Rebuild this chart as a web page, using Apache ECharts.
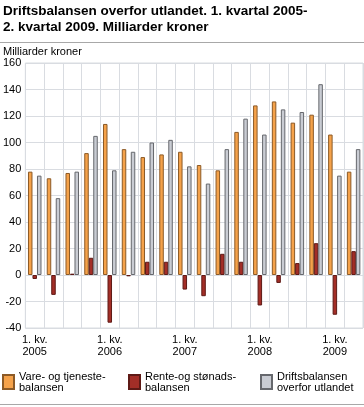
<!DOCTYPE html>
<html>
<head>
<meta charset="utf-8">
<script src="https://cdn.jsdelivr.net/npm/echarts@6/dist/echarts.min.js"></script>
<style>
html,body{margin:0;padding:0;background:#fff;}
#c{width:364px;height:407px;}
</style>
</head>
<body>
<div id="c"></div>
<script>
var categories = ["1. kv.\n2005","2. kv.\n2005","3. kv.\n2005","4. kv.\n2005",
  "1. kv.\n2006","2. kv.\n2006","3. kv.\n2006","4. kv.\n2006",
  "1. kv.\n2007","2. kv.\n2007","3. kv.\n2007","4. kv.\n2007",
  "1. kv.\n2008","2. kv.\n2008","3. kv.\n2008","4. kv.\n2008",
  "1. kv.\n2009","2. kv.\n2009"];
var vareTjeneste = [78,73,77,92,114,95,89,91,93,83,79,108,128,131,115,121,106,78];
var renteStonad = [-3,-15,1,13,-36,-1,10,10,-11,-16,16,10,-23,-6,9,24,-30,18];
var driftsbalanse = [75,58,78,105,79,93,100,102,82,69,95,118,106,125,123,144,75,95];
var seriesNames = ["Vare- og tjeneste-\nbalansen","Rente-og stønads-\nbalansen","Driftsbalansen\noverfor utlandet"];
var yTicks = {min:-40, max:160, interval:20};

var FONT = '"Liberation Sans", Arial, sans-serif';
var gridColor = '#d9dce1';
var fills = ['#f5a24a','#a32e27','#c9ccd3'];
var borders = ['#8c5a26','#5e1a16','#66686d'];

var chart = echarts.init(document.getElementById('c'), null, {renderer:'canvas'});
function legendFor(i, left){
  return {
    left:left, top:371, orient:'horizontal', padding:0,
    data:[{name:seriesNames[i], icon:'rect'}],
    itemWidth:11, itemHeight:14, itemGap:0,
    selectedMode:false,
    textStyle:{fontFamily:FONT, fontSize:11, color:'#000', lineHeight:11}
  };
}
var option = {
  animation:false,
  textStyle:{fontFamily:FONT},
  title:[
    {text:'Driftsbalansen overfor utlandet. 1. kvartal 2005-\n2. kvartal 2009. Milliarder kroner',
     left:3, top:3, padding:0,
     textStyle:{fontFamily:FONT, fontSize:13.5, fontWeight:'bold', color:'#000', lineHeight:16}},
    {text:'Milliarder kroner', left:3, top:46, padding:0,
     textStyle:{fontFamily:FONT, fontSize:11, fontWeight:'normal', color:'#000'}}
  ],
  legend:[legendFor(0,2), legendFor(1,128), legendFor(2,260)],
  grid:{left:25, right:1, top:63, bottom:79, show:true, borderColor:gridColor, borderWidth:1, containLabel:false},
  xAxis:{
    type:'category', data:categories,
    axisTick:{show:false},
    axisLine:{show:false},
    axisLabel:{interval:3, fontFamily:FONT, fontSize:11, color:'#000', lineHeight:12, margin:6},
    splitLine:{show:true, interval:0, lineStyle:{color:gridColor, width:1}}
  },
  yAxis:{
    type:'value', min:yTicks.min, max:yTicks.max, interval:yTicks.interval,
    axisLine:{show:false}, axisTick:{show:false},
    axisLabel:{fontFamily:FONT, fontSize:11, color:'#000', margin:4},
    splitLine:{show:true, lineStyle:{color:gridColor, width:1}}
  },
  series:[
    {name:seriesNames[0], type:'bar', data:vareTjeneste, barGap:'0%', barCategoryGap:'28%',
     itemStyle:{color:fills[0], borderColor:borders[0], borderWidth:1}},
    {name:seriesNames[1], type:'bar', data:renteStonad, barGap:'0%', barCategoryGap:'28%',
     itemStyle:{color:fills[1], borderColor:borders[1], borderWidth:1}},
    {name:seriesNames[2], type:'bar', data:driftsbalanse, barGap:'0%', barCategoryGap:'28%',
     itemStyle:{color:fills[2], borderColor:borders[2], borderWidth:1}}
  ],
  graphic:[
    {type:'line', shape:{x1:0,y1:42.5,x2:364,y2:42.5}, style:{stroke:'#a8a8a8', lineWidth:1}, silent:true},
    {type:'line', shape:{x1:0,y1:404.5,x2:364,y2:404.5}, style:{stroke:'#a8a8a8', lineWidth:1}, silent:true}
  ]
};
chart.setOption(option);
</script>
</body>
</html>
